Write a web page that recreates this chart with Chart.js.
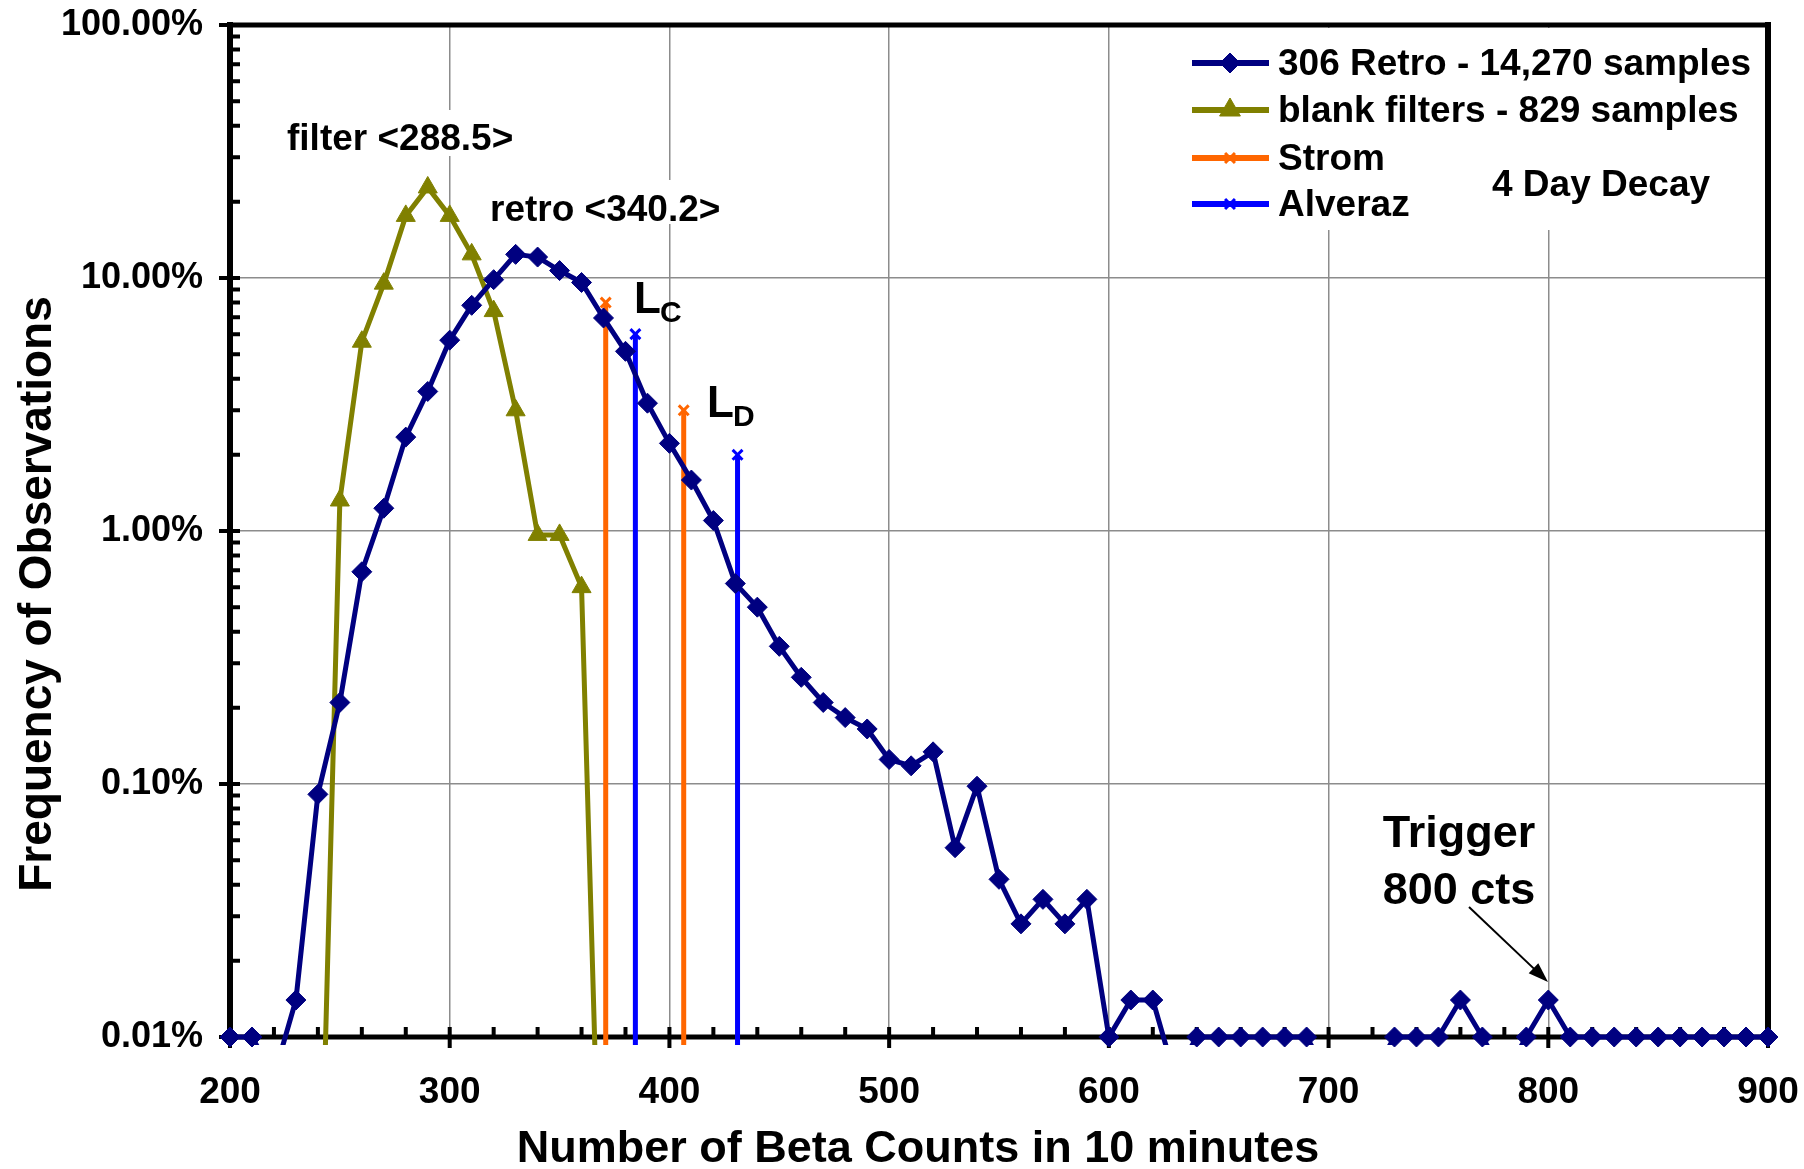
<!DOCTYPE html>
<html>
<head>
<meta charset="utf-8">
<title>Beta count frequency - 4 day decay</title>
<script src="https://cdn.jsdelivr.net/npm/chart.js@4.4.0/dist/chart.umd.min.js"></script>
<style>
  html, body { margin: 0; padding: 0; background: #fff; }
  canvas { display: block; }
</style>
</head>
<body>
<canvas id="chart" width="1804" height="1169"></canvas>
<script>
// Beta counts in a 10 minute run, one bin every 10 counts
var retroCounts = [200, 210, 220, 230, 240, 250, 260, 270, 280, 290,
                   300, 310, 320, 330, 340, 350, 360, 370, 380, 390,
                   400, 410, 420, 430, 440, 450, 460, 470, 480, 490,
                   500, 510, 520, 530, 540, 550, 560, 570, 580, 590,
                   600, 610, 620, 630, 640, 650, 660, 670, 680, 690,
                   700, 710, 720, 730, 740, 750, 760, 770, 780, 790,
                   800, 810, 820, 830, 840, 850, 860, 870, 880, 890, 900];
// frequency of observations, percent (306 Retro, 14,270 samples)
var retroPct = [0.01, 0.01, 0.007, 0.014, 0.091, 0.21, 0.69, 1.23, 2.35, 3.56,
                5.68, 7.8, 9.85, 12.4, 12.1, 10.7, 9.6, 6.95, 5.13, 3.2,
                2.22, 1.59, 1.10, 0.62, 0.50, 0.35, 0.264, 0.21, 0.183, 0.165,
                0.125, 0.118, 0.134, 0.056, 0.098, 0.042, 0.028, 0.035, 0.028, 0.035,
                0.01, 0.014, 0.014, 0.007, 0.01, 0.01, 0.01, 0.01, 0.01, 0.01,
                0.007, 0.007, 0.007, 0.01, 0.01, 0.01, 0.014, 0.01, 0.007, 0.01,
                0.014, 0.01, 0.01, 0.01, 0.01, 0.01, 0.01, 0.01, 0.01, 0.01, 0.01];

// blank filters, 829 samples
var blankCounts = [240, 250, 260, 270, 280, 290, 300, 310, 320, 330, 340, 350, 360, 370];
var blankPct = [0.0007, 1.32, 5.6, 9.5, 17.6, 22.8, 17.6, 12.4, 7.4, 3.0, 0.965, 0.965, 0.60, 0.0006];

// critical level / detection limit markers
var stromCounts = [371, 406.5];
var stromPct = [8.0, 3.0];
var alverazCounts = [384.5, 431];
var alverazPct = [6.0, 2.0];

var yTicks = [0.01, 0.1, 1, 10, 100];
var xTicks = [200, 300, 400, 500, 600, 700, 800, 900];

var NAVY = '#000080', OLIVE = '#808000', ORANGE = '#FF6600', BLUE = '#0000FF';
var GRID = '#8c8c8c';
var FONT = '"Liberation Sans", Arial, Helvetica, sans-serif';
var Y_MIN = 0.01, FLOOR = 1e-4;

function bold(px) { return 'bold ' + px + 'px ' + FONT; }

function points(xs, ys) {
  return xs.map(function(x, i) { return {x: x, y: ys[i]}; });
}

// each limit is a vertical stroke from its value down past the axis
function dropLines(xs, tops) {
  var pts = [];
  xs.forEach(function(x, i) {
    pts.push({x: x, y: tops[i]}, {x: x, y: FLOOR}, {x: x, y: null});
  });
  return pts;
}

function visibleRadius(r) {
  return function(c) { return c.raw && c.raw.y >= Y_MIN ? r : 0; };
}

function drawMarker(ctx, style, r, x, y, color, bw) {
  ctx.save();
  ctx.fillStyle = color;
  ctx.strokeStyle = color;
  ctx.lineWidth = bw;
  Chart.helpers.drawPoint(ctx, {pointStyle: style, radius: r, borderWidth: bw, rotation: 0}, x, y);
  ctx.restore();
}

// keep tick labels from pushing the plot area inward
function noOverflow(s) {
  s.paddingTop = 0;
  s.paddingBottom = 0;
  s.paddingLeft = 0;
  s.paddingRight = 0;
}

var decorations = {
  id: 'decorations',
  beforeDatasetsDraw: function(chart) {
    var ctx = chart.ctx, a = chart.chartArea, xs = chart.scales.x, ys = chart.scales.y;
    ctx.save();

    // text boxes inside the plot hide the grid behind them
    ctx.fillStyle = '#fff';
    ctx.fillRect(283, 110, 236, 46);
    ctx.fillRect(486, 180, 238, 44);
    ctx.fillRect(1180, 28, 584, 202);

    // tick marks: major ones cross the axis, minor ones point inward
    ctx.strokeStyle = '#000';
    ctx.lineWidth = 4;
    ctx.beginPath();
    for (var e = -2; e <= 2; e++) {
      var dec = Math.pow(10, e);
      var py = ys.getPixelForValue(dec);
      ctx.moveTo(a.left - 11, py);
      ctx.lineTo(a.left + 10, py);
      if (e < 2) {
        for (var m = 2; m <= 9; m++) {
          var my = ys.getPixelForValue(m * dec);
          ctx.moveTo(a.left, my);
          ctx.lineTo(a.left + 10, my);
        }
      }
    }
    for (var v = 200; v <= 900; v += 20) {
      var px = xs.getPixelForValue(v);
      ctx.moveTo(px, a.bottom - 10);
      ctx.lineTo(px, v % 100 === 0 ? a.bottom + 11 : a.bottom);
    }
    ctx.stroke();

    // plot frame
    ctx.lineCap = 'square';
    ctx.lineWidth = 5;
    ctx.beginPath();
    ctx.moveTo(a.left, a.top); ctx.lineTo(a.right, a.top);
    ctx.moveTo(a.left, a.bottom); ctx.lineTo(a.right, a.bottom);
    ctx.stroke();
    ctx.lineWidth = 6;
    ctx.beginPath();
    ctx.moveTo(a.left, a.top); ctx.lineTo(a.left, a.bottom);
    ctx.moveTo(a.right, a.top); ctx.lineTo(a.right, a.bottom);
    ctx.stroke();
    ctx.restore();
  },
  afterDatasetsDraw: function(chart) {
    var ctx = chart.ctx;
    ctx.save();
    ctx.fillStyle = '#000';
    ctx.textBaseline = 'alphabetic';
    ctx.textAlign = 'left';

    // legend
    chart.data.datasets.forEach(function(ds) {
      if (!ds.legendRow) return;
      var r = ds.legendRow;
      ctx.strokeStyle = ds.borderColor;
      ctx.lineWidth = 6;
      ctx.beginPath();
      ctx.moveTo(1192, r.y);
      ctx.lineTo(1269, r.y);
      ctx.stroke();
      drawMarker(ctx, ds.pointStyle, r.r, 1230, r.y, ds.borderColor, r.bw);
      ctx.fillStyle = '#000';
      ctx.font = bold(37);
      ctx.fillText(ds.label, 1278, r.y + 12);
    });
    ctx.font = bold(37);
    ctx.fillText('4 Day Decay', 1492, 196);

    // mean values
    ctx.fillText('filter <288.5>', 287, 150);
    ctx.fillText('retro <340.2>', 490, 221);

    // L_C and L_D
    ctx.font = bold(44);
    ctx.fillText('L', 634, 313);
    ctx.fillText('L', 707, 417);
    ctx.font = bold(30);
    ctx.fillText('C', 660, 322);
    ctx.fillText('D', 733, 426);

    // trigger note with arrow
    ctx.textAlign = 'center';
    ctx.font = bold(45);
    ctx.fillText('Trigger', 1459, 847);
    ctx.fillText('800 cts', 1459, 904);
    var x0 = 1469, y0 = 907, x1 = 1548, y1 = 982;
    var ang = Math.atan2(y1 - y0, x1 - x0);
    ctx.strokeStyle = '#000';
    ctx.lineWidth = 2;
    ctx.beginPath();
    ctx.moveTo(x0, y0);
    ctx.lineTo(x1 - 14 * Math.cos(ang), y1 - 14 * Math.sin(ang));
    ctx.stroke();
    ctx.beginPath();
    ctx.moveTo(x1, y1);
    ctx.lineTo(x1 - 20 * Math.cos(ang) + 7 * Math.sin(ang), y1 - 20 * Math.sin(ang) - 7 * Math.cos(ang));
    ctx.lineTo(x1 - 20 * Math.cos(ang) - 7 * Math.sin(ang), y1 - 20 * Math.sin(ang) + 7 * Math.cos(ang));
    ctx.closePath();
    ctx.fill();

    // axis titles
    ctx.font = bold(45);
    ctx.fillText('Number of Beta Counts in 10 minutes', 918, 1162);
    ctx.translate(51, 594);
    ctx.rotate(-Math.PI / 2);
    ctx.font = bold(46);
    ctx.fillText('Frequency of Observations', 0, 0);
    ctx.restore();
  }
};

Chart.defaults.font.family = FONT;
Chart.defaults.font.weight = 'bold';
Chart.defaults.color = '#000';

var lineClip = {left: 0, top: 0, right: 0, bottom: 8};

new Chart(document.getElementById('chart'), {
  type: 'line',
  data: {
    datasets: [
      {
        label: '306 Retro markers',
        data: points(retroCounts, retroPct),
        showLine: false,
        pointStyle: 'rectRot',
        pointRadius: visibleRadius(10),
        pointBorderWidth: 1,
        borderColor: NAVY,
        backgroundColor: NAVY,
        clip: false
      },
      {
        label: '306 Retro - 14,270 samples',
        data: points(retroCounts, retroPct),
        borderColor: NAVY,
        backgroundColor: NAVY,
        borderWidth: 5,
        pointRadius: 0,
        pointStyle: 'rectRot',
        tension: 0,
        clip: lineClip,
        legendRow: {y: 63, r: 10, bw: 1}
      },
      {
        label: 'blank filters - 829 samples',
        data: points(blankCounts, blankPct),
        borderColor: OLIVE,
        backgroundColor: OLIVE,
        borderWidth: 5,
        pointStyle: 'triangle',
        pointRadius: visibleRadius(11),
        pointBorderWidth: 1,
        tension: 0,
        clip: lineClip,
        legendRow: {y: 110, r: 12, bw: 1}
      },
      {
        label: 'Strom',
        data: dropLines(stromCounts, stromPct),
        borderColor: ORANGE,
        backgroundColor: ORANGE,
        borderWidth: 5,
        pointStyle: 'crossRot',
        pointRadius: visibleRadius(7),
        pointBorderWidth: 3,
        spanGaps: false,
        clip: lineClip,
        legendRow: {y: 158, r: 7, bw: 3}
      },
      {
        label: 'Alveraz',
        data: dropLines(alverazCounts, alverazPct),
        borderColor: BLUE,
        backgroundColor: BLUE,
        borderWidth: 5,
        pointStyle: 'crossRot',
        pointRadius: visibleRadius(7),
        pointBorderWidth: 3,
        spanGaps: false,
        clip: lineClip,
        legendRow: {y: 204, r: 7, bw: 3}
      }
    ]
  },
  options: {
    responsive: false,
    animation: false,
    events: [],
    layout: {padding: {top: 25, right: 36, left: 0, bottom: 0}},
    plugins: {
      legend: {display: false},
      tooltip: {enabled: false},
      title: {display: false}
    },
    scales: {
      x: {
        type: 'linear',
        min: 200,
        max: 900,
        afterFit: function(s) { s.height = 132; noOverflow(s); },
        afterBuildTicks: function(s) { s.ticks = xTicks.map(function(v) { return {value: v}; }); },
        ticks: {padding: 34, color: '#000', font: {size: 37, weight: 'bold'}},
        grid: {color: GRID, lineWidth: 1.5, drawTicks: false},
        border: {display: false}
      },
      y: {
        type: 'logarithmic',
        min: 0.01,
        max: 100,
        afterFit: function(s) { s.width = 230; noOverflow(s); },
        afterBuildTicks: function(s) { s.ticks = yTicks.map(function(v) { return {value: v}; }); },
        ticks: {
          padding: 27,
          color: '#000',
          font: {size: 36, weight: 'bold'},
          callback: function(v) { return Number(v).toFixed(2) + '%'; }
        },
        grid: {color: GRID, lineWidth: 1.5, drawTicks: false},
        border: {display: false}
      }
    }
  },
  plugins: [decorations]
});
</script>
</body>
</html>
